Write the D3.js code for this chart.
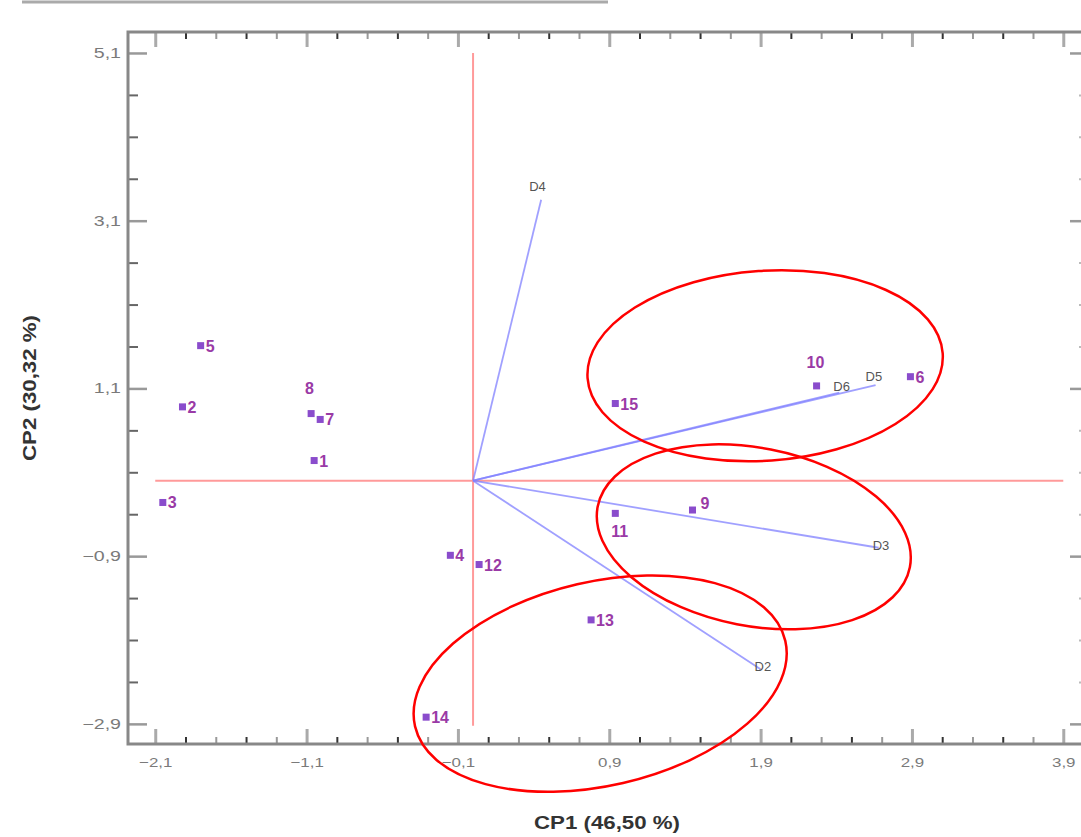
<!DOCTYPE html>
<html>
<head>
<meta charset="utf-8">
<script src="https://cdn.jsdelivr.net/npm/d3@7"></script>
<style>
  body { margin: 0; background: #fff; }
  svg { display: block; }
</style>
</head>
<body>
<svg id="chart" width="1081" height="837"></svg>
<script>
// individuals (PCA scores)
const pointNames = ['1', '2', '3', '4', '5', '6', '7', '8', '9', '10', '11', '12', '13', '14', '15'];
const pointCP1 = [-1.05, -1.92, -2.05, -0.15, -1.80, 2.89, -1.01, -1.07, 1.45, 2.27, 0.94, 0.04, 0.78, -0.31, 0.94];
const pointCP2 = [0.24, 0.88, -0.26, -0.89, 1.61, 1.24, 0.73, 0.80, -0.35, 1.13, -0.39, -1.00, -1.66, -2.82, 0.92];

// variable loadings
const varNames = ['D4', 'D6', 'D5', 'D3', 'D2'];
const varCP1 = [0.45, 2.42, 2.66, 2.68, 1.90];
const varCP2 = [3.35, 1.05, 1.14, -0.80, -2.25];

// axis ticks
const xTicks = [-2.1, -1.1, -0.1, 0.9, 1.9, 2.9, 3.9];
const yTicks = [-2.9, -0.9, 1.1, 3.1, 5.1];

// group ellipses (centre in data units)
const groupCX = [1.93, 1.855, 0.84];
const groupCY = [1.37, -0.67, -2.42];

const svg = d3.select('#chart');
const margin = { left: 128, top: 32, right: -8, bottom: 93 };
const W = 1081, H = 837;
const FONT = 'Liberation Sans, Arial, sans-serif';

const x = d3.scaleLinear().domain([-2.28, 4.07]).range([margin.left, W - margin.right]);
const y = d3.scaleLinear().domain([-3.14, 5.35]).range([H - margin.bottom, margin.top]);

const fmt = d => d3.format('.1f')(d).replace('.', ',');

// the original tick labels look stretched sideways
function widen(sel, k) {
  sel.each(function () {
    const len = this.getComputedTextLength();
    d3.select(this).attr('textLength', len * k).attr('lengthAdjust', 'spacingAndGlyphs');
  });
}

// thin rule at the very top
svg.append('line')
  .attr('x1', 22).attr('x2', 608).attr('y1', 2).attr('y2', 2)
  .attr('stroke', '#aaa').attr('stroke-width', 3);

// minor ticks
const xMinor = d3.range(-2.1, 4.0, 0.2).filter(v => !xTicks.some(t => Math.abs(t - v) < 1e-6));
const yMinor = d3.range(-2.9, 5.2, 0.5).filter(v => !yTicks.some(t => Math.abs(t - v) < 1e-6));

const x0 = margin.left, x1 = W - margin.right, y0 = margin.top, y1 = H - margin.bottom;

function axisGroup(gen, tx, ty) {
  const g = svg.append('g').attr('transform', `translate(${tx},${ty})`).call(gen);
  g.select('.domain').remove();
  return g;
}

// bottom axis with labels
const gxb = axisGroup(d3.axisBottom(x).tickValues(xTicks).tickFormat(fmt).tickSizeInner(-15).tickPadding(14), 0, y1);
gxb.selectAll('line').attr('stroke', '#aaa').attr('stroke-width', 3);
gxb.selectAll('text').attr('font-family', FONT).attr('font-size', 13).attr('fill', '#7a7a7a').call(widen, 1.3);
const gxbm = axisGroup(d3.axisBottom(x).tickValues(xMinor).tickFormat('').tickSizeInner(-7), 0, y1);
gxbm.selectAll('line').attr('stroke', (d, i) => i % 2 ? '#999' : '#333').attr('stroke-width', 2);

// top axis
const gxt = axisGroup(d3.axisTop(x).tickValues(xTicks).tickFormat('').tickSizeInner(-15), 0, y0);
gxt.selectAll('line').attr('stroke', '#aaa').attr('stroke-width', 3);
const gxtm = axisGroup(d3.axisTop(x).tickValues(xMinor).tickFormat('').tickSizeInner(-7), 0, y0);
gxtm.selectAll('line').attr('stroke', (d, i) => i % 2 ? '#999' : '#333').attr('stroke-width', 2);

// left axis with labels
const gyl = axisGroup(d3.axisLeft(y).tickValues(yTicks).tickFormat(fmt).tickSizeInner(-19).tickPadding(7), x0, 0);
gyl.selectAll('line').attr('stroke', '#999').attr('stroke-width', 2.5);
gyl.selectAll('text').attr('font-family', FONT).attr('font-size', 14).attr('fill', '#7a7a7a').call(widen, 1.4);
const gylm = axisGroup(d3.axisLeft(y).tickValues(yMinor).tickFormat('').tickSizeInner(-10), x0, 0);
gylm.selectAll('line').attr('stroke', '#666').attr('stroke-width', 2);

// right axis
const gyr = axisGroup(d3.axisRight(y).tickValues(yTicks).tickFormat('').tickSizeInner(-19), x1, 0);
gyr.selectAll('line').attr('stroke', '#999').attr('stroke-width', 2.5);
const gyrm = axisGroup(d3.axisRight(y).tickValues(yMinor).tickFormat('').tickSizeInner(-10), x1, 0);
gyrm.selectAll('line').attr('stroke', '#bbb').attr('stroke-width', 2);

// frame
svg.append('rect')
  .attr('x', x0).attr('y', y0).attr('width', x1 - x0).attr('height', y1 - y0)
  .attr('fill', 'none').attr('stroke', '#888').attr('stroke-width', 3);

// red reference axes through the origin
svg.append('line')
  .attr('x1', x(xTicks[0])).attr('x2', x(xTicks[xTicks.length - 1]))
  .attr('y1', y(0)).attr('y2', y(0))
  .attr('stroke', '#ff9a9a').attr('stroke-width', 2);
svg.append('line')
  .attr('x1', x(0)).attr('x2', x(0))
  .attr('y1', y(yTicks[yTicks.length - 1])).attr('y2', y(yTicks[0]) + 2)
  .attr('stroke', '#ff9a9a').attr('stroke-width', 2);

// loading vectors
const vars = varNames.map((n, i) => ({ name: n, cx: varCP1[i], cy: varCP2[i] }));
svg.append('g').selectAll('line').data(vars).join('line')
  .attr('x1', x(0)).attr('y1', y(0))
  .attr('x2', d => x(d.cx)).attr('y2', d => y(d.cy))
  .attr('stroke', '#8080ff').attr('stroke-opacity', 0.75).attr('stroke-width', 1.8);

const varLabelOffset = { D4: [-12, -9], D6: [-6, -2], D5: [-10, -4], D3: [-6, 2], D2: [-6, 2] };
svg.append('g').selectAll('text').data(vars).join('text')
  .attr('x', d => x(d.cx) + varLabelOffset[d.name][0])
  .attr('y', d => y(d.cy) + varLabelOffset[d.name][1])
  .attr('font-family', FONT).attr('font-size', 13)
  .attr('fill', '#555')
  .text(d => d.name);

// group ellipses
const ellipseStyle = [
  { rx: 178, ry: 95, rot: -4 },
  { rx: 159, ry: 89, rot: 11 },
  { rx: 190, ry: 102, rot: -13 }
];
svg.append('g').selectAll('ellipse').data(groupCX).join('ellipse')
  .attr('cx', 0).attr('cy', 0)
  .attr('transform', (d, i) => `translate(${x(d)},${y(groupCY[i])}) rotate(${ellipseStyle[i].rot})`)
  .attr('rx', (d, i) => ellipseStyle[i].rx).attr('ry', (d, i) => ellipseStyle[i].ry)
  .attr('fill', 'none').attr('stroke', '#f00').attr('stroke-width', 2.5);

// individuals
const pts = pointNames.map((n, i) => ({ name: n, cx: pointCP1[i], cy: pointCP2[i] }));
svg.append('g').selectAll('rect').data(pts).join('rect')
  .attr('x', d => x(d.cx) - 3.5).attr('y', d => y(d.cy) - 3.5)
  .attr('width', 7).attr('height', 7)
  .attr('fill', '#8a4ccc');

const ptLabelOffset = { '8': [-6, -20], '10': [-10, -18], '11': [-4, 24], '9': [8, -1] };
svg.append('g').selectAll('text').data(pts).join('text')
  .attr('x', d => x(d.cx) + (ptLabelOffset[d.name] ? ptLabelOffset[d.name][0] : 5))
  .attr('y', d => y(d.cy) + (ptLabelOffset[d.name] ? ptLabelOffset[d.name][1] : 6))
  .attr('font-family', FONT).attr('font-size', 16).attr('font-weight', 'bold')
  .attr('fill', '#9a3aa6')
  .text(d => d.name);

// axis titles
svg.append('text')
  .attr('x', 607).attr('y', 829)
  .attr('text-anchor', 'middle')
  .attr('font-family', FONT).attr('font-size', 19).attr('font-weight', 'bold')
  .attr('textLength', 146).attr('lengthAdjust', 'spacingAndGlyphs')
  .attr('fill', '#333')
  .text('CP1 (46,50 %)');
svg.append('text')
  .attr('transform', 'translate(36,388) rotate(-90)')
  .attr('text-anchor', 'middle')
  .attr('font-family', FONT).attr('font-size', 19).attr('font-weight', 'bold')
  .attr('textLength', 146).attr('lengthAdjust', 'spacingAndGlyphs')
  .attr('fill', '#333')
  .text('CP2 (30,32 %)');
</script>
</body>
</html>
